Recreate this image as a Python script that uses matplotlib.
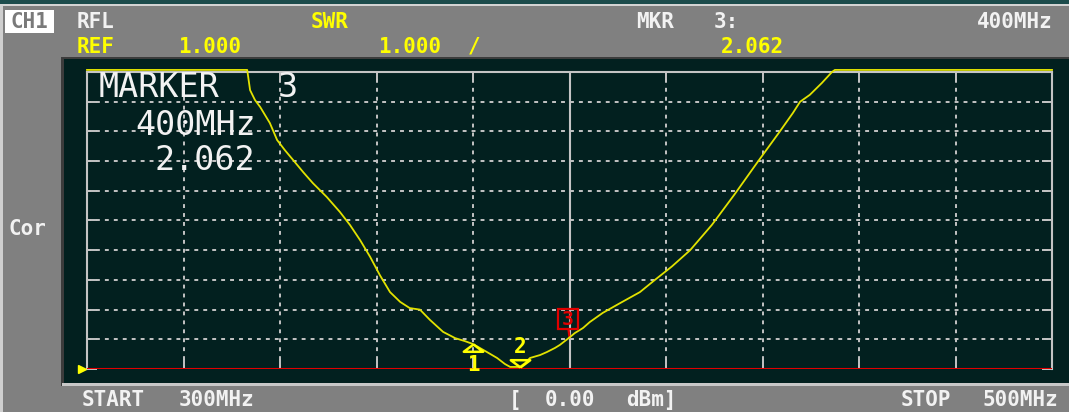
"""Network analyzer screen: SWR sweep 300-500 MHz with three markers."""

import numpy as np
import matplotlib
matplotlib.use("Agg")
import matplotlib.pyplot as plt
from matplotlib.patches import Rectangle
from matplotlib.transforms import offset_copy

W, H = 1069, 412

# sweep settings
start_mhz, stop_mhz = 300.0, 500.0
ref_swr, swr_per_div = 1.0, 1.0
n_div = 10

# trace (11.07 = analyzer clamps the trace at the top line)
freq_mhz = [300.0, 333.2, 333.8, 334.8, 335.9, 337.9, 339.4, 341.0, 342.7, 344.8,
            346.8, 349.7, 352.4, 354.5, 356.6, 358.7, 360.7, 362.8, 364.9, 366.9,
            369.0, 371.1, 373.8, 376.3, 378.3, 380.0, 381.4, 382.9, 385.0, 386.6,
            387.7, 389.7, 390.8, 391.8, 393.9, 395.3, 397.0, 398.0, 400.0, 401.1,
            402.8, 404.2, 406.9, 410.5, 414.6, 417.7, 421.2, 425.0, 429.5, 434.3,
            438.9, 443.6, 446.3, 447.8, 449.8, 452.3, 454.4, 455.0, 500.0]
swr = [11.07, 11.07, 10.39, 10.06, 9.82, 9.28, 8.71, 8.37, 8.04, 7.63,
       7.26, 6.79, 6.29, 5.85, 5.34, 4.77, 4.16, 3.59, 3.26, 3.05,
       3.00, 2.65, 2.25, 2.04, 1.94, 1.84, 1.71, 1.57, 1.37, 1.17,
       1.07, 1.07, 1.20, 1.37, 1.47, 1.57, 1.71, 1.81, 2.062, 2.21,
       2.38, 2.58, 2.89, 3.22, 3.59, 4.00, 4.45, 5.00, 5.85, 6.90,
       7.95, 9.00, 9.62, 10.00, 10.23, 10.63, 11.00, 11.07, 11.07]

marker_ids = ["1", "2", "3"]
marker_freq = [380.0, 389.7, 400.0]

BG = "#808080"
PANEL = "#02201f"
GRID = "#c4c4c4"
YEL = "#ffff00"
TRACE = "#e2e200"
WHITE = "#f2f2f2"
RED = "#e00000"
MONO = "DejaVu Sans Mono"

plt.rcParams["font.family"] = MONO

fig = plt.figure(figsize=(W / 100, H / 100), dpi=100, facecolor=BG)


def fig_rect(x0, y0, x1, y1, color):
    # rectangle in screen pixels (y measured from the top)
    fig.add_artist(Rectangle((x0 / W, 1 - y1 / H), (x1 - x0) / W, (y1 - y0) / H,
                             transform=fig.transFigure, color=color, lw=0, zorder=-10))


def scr_text(xc, y_base, s, color, size=15, weight="bold", ha="center"):
    fig.text(xc / W, 1 - y_base / H, s, color=color, fontsize=size,
             fontweight=weight, ha=ha, va="baseline", family=MONO)


# window frame
fig_rect(0, 0, W, 4, "#1c4c4c")
fig_rect(0, 4, W, 6, "#d4d4d4")
fig_rect(0, 6, 3, H, "#cfcfcf")
fig_rect(61, 57, W, 386, "#3c3c3c")
fig_rect(62, 383, W, 386, "#c8c8c8")
fig_rect(64, 59, W, 383, PANEL)

# header lines
fig_rect(5, 10, 54, 33, "#ffffff")
scr_text(29.5, 28, "CH1", "#7a7a7a")
scr_text(96, 28, "RFL", WHITE)
scr_text(330, 28, "SWR", YEL)
scr_text(655, 28, "MKR", WHITE)
scr_text(726, 28, "3:", WHITE)
scr_text(1015, 28, "400MHz", WHITE)
scr_text(96, 53, "REF", YEL)
scr_text(210, 53, "1.000", YEL)
scr_text(410, 53, "1.000", YEL)
scr_text(474, 53, "/", YEL)
scr_text(752, 53, "2.062", YEL)
scr_text(27, 235, "Cor", WHITE)
scr_text(113, 406, "START", WHITE)
scr_text(217, 406, "300MHz", WHITE)
scr_text(515, 406, "[", WHITE)
scr_text(570, 406, "0.00", WHITE)
scr_text(651, 406, "dBm]", WHITE)
scr_text(926, 406, "STOP", WHITE)
scr_text(1020, 406, "500MHz", WHITE)

# graticule
ax = fig.add_axes([87 / W, (H - 369) / H, 965 / W, 297 / H])
ax.set_facecolor("none")
ax.set_xlim(start_mhz, stop_mhz)
ax.set_ylim(ref_swr, ref_swr + n_div * swr_per_div)
ax.set_xticks(np.linspace(start_mhz, stop_mhz, n_div + 1))
ax.set_yticks(ref_swr + swr_per_div * np.arange(n_div + 1))
ax.tick_params(direction="in", length=7, width=1.4, color=GRID, top=True, right=True,
               labelbottom=False, labelleft=False)
ax.grid(True, color=GRID, lw=1.4, ls=(0, (2, 2.6)))
ax.axvline((start_mhz + stop_mhz) / 2, color=GRID, lw=1.5)
for side in ["top", "left", "right"]:
    ax.spines[side].set_color(GRID)
    ax.spines[side].set_linewidth(1.5)
ax.spines["bottom"].set_visible(False)
ax.axhline(ref_swr, color=RED, lw=2.2, zorder=3)

ax.plot(freq_mhz, swr, color=TRACE, lw=1.3, clip_on=False, zorder=4)

# reference level pointer
ax.plot([start_mhz], [ref_swr], marker=">", ms=6, color=YEL, clip_on=False,
        transform=offset_copy(ax.transData, fig=fig, x=-5, y=0, units="dots"), zorder=5)

# markers 1 and 2: open triangles with their numbers
m_swr = np.interp(marker_freq, freq_mhz, swr)
up_tri = [(0, 0), (-1, -0.75), (1, -0.75), (0, 0)]
down_tri = [(0, 0), (-1, 0.75), (1, 0.75), (0, 0)]
ax.plot(marker_freq[0], m_swr[0], marker=up_tri, ms=14, mfc="none", mec=YEL, mew=1.8,
        clip_on=False, zorder=5)
ax.annotate(marker_ids[0], (marker_freq[0], m_swr[0]), xytext=(0, -27),
            textcoords="offset pixels", ha="center", va="baseline", color=YEL,
            fontsize=15, fontweight="bold")
ax.plot(marker_freq[1], m_swr[1], marker=down_tri, ms=14, mfc="none", mec=YEL, mew=1.8,
        clip_on=False, zorder=5)
ax.annotate(marker_ids[1], (marker_freq[1], m_swr[1]), xytext=(0, 14),
            textcoords="offset pixels", ha="center", va="baseline", color=YEL,
            fontsize=15, fontweight="bold")

# marker 3 (active): red square flag on a short stem
box_tr = offset_copy(ax.transData, fig=fig, x=-2, y=18, units="dots")
ax.plot(marker_freq[2], m_swr[2], marker="s", ms=14.5, mfc="none", mec=RED, mew=1.6,
        transform=box_tr, clip_on=False, zorder=6)
ax.text(marker_freq[2], m_swr[2], marker_ids[2], transform=box_tr, ha="center",
        va="center", color=RED, fontsize=14, fontweight="bold", zorder=6)
ax.annotate("", (marker_freq[2], m_swr[2]), xytext=(-1, 8), textcoords="offset pixels",
            arrowprops=dict(arrowstyle="-", color=RED, lw=1.6, shrinkA=0, shrinkB=0))

# active marker readout
scr_text(159, 97, "MARKER", WHITE, size=24, weight="normal")
scr_text(288, 97, "3", WHITE, size=24, weight="normal")
scr_text(196, 135, "400MHz", WHITE, size=24, weight="normal")
scr_text(205, 170, "2.062", WHITE, size=24, weight="normal")

fig.savefig("out.png", dpi=100, facecolor=BG)
